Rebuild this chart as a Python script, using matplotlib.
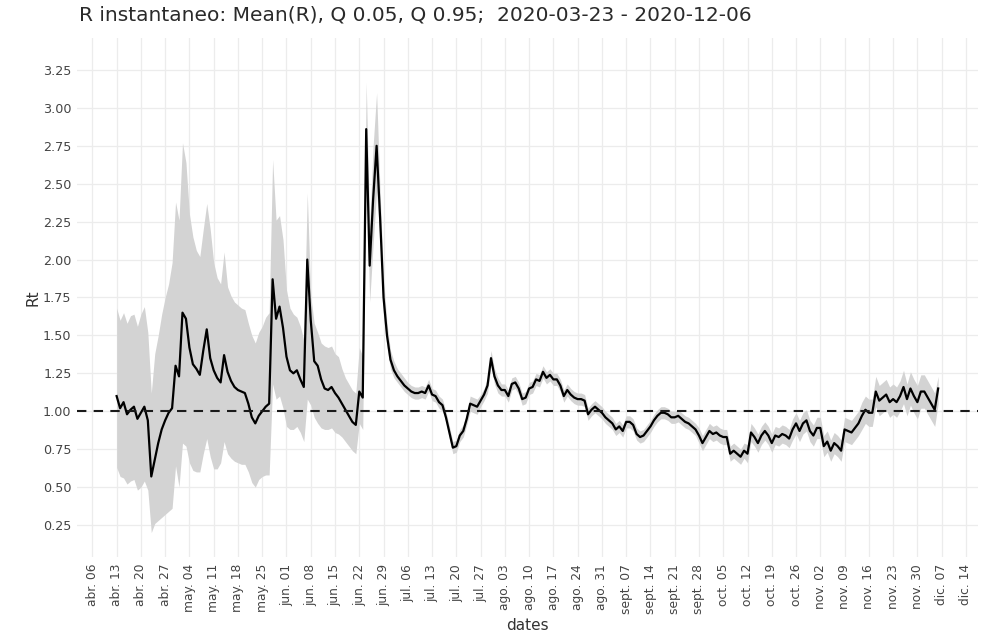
import matplotlib
matplotlib.use("Agg")
import matplotlib.pyplot as plt
import pandas as pd

TITLE = "R instantaneo: Mean(R), Q 0.05, Q 0.95;  2020-03-23 - 2020-12-06"
START = "2020-04-13"

# daily mean of R, from 2020-04-13 to 2020-12-06
mean_r = [
    1.10, 1.02, 1.06, 0.98, 1.01, 1.03, 0.95, 0.99, 1.03, 0.94,
    0.57, 0.68, 0.79, 0.88, 0.94, 0.99, 1.02, 1.30, 1.23, 1.65,
    1.61, 1.42, 1.31, 1.28, 1.24, 1.40, 1.54, 1.35, 1.27, 1.22,
    1.19, 1.37, 1.26, 1.20, 1.16, 1.14, 1.13, 1.12, 1.05, 0.96,
    0.92, 0.97, 1.00, 1.03, 1.05, 1.87, 1.61, 1.69, 1.55, 1.36,
    1.27, 1.25, 1.27, 1.21, 1.16, 2.00, 1.60, 1.33, 1.30, 1.21,
    1.15, 1.14, 1.16, 1.12, 1.09, 1.05, 1.01, 0.97, 0.93, 0.91,
    1.13, 1.09, 2.86, 1.96, 2.40, 2.75, 2.28, 1.75, 1.50, 1.34,
    1.27, 1.23, 1.20, 1.17, 1.15, 1.13, 1.12, 1.12, 1.13, 1.12,
    1.17, 1.11, 1.10, 1.06, 1.04, 0.96, 0.86, 0.76, 0.77, 0.84,
    0.87, 0.95, 1.05, 1.04, 1.03, 1.07, 1.11, 1.17, 1.35, 1.23,
    1.17, 1.14, 1.14, 1.10, 1.18, 1.19, 1.15, 1.08, 1.09, 1.15,
    1.16, 1.21, 1.20, 1.26, 1.22, 1.24, 1.21, 1.21, 1.17, 1.10,
    1.14, 1.11, 1.09, 1.08, 1.08, 1.07, 0.98, 1.01, 1.03, 1.01,
    0.99, 0.96, 0.94, 0.92, 0.88, 0.90, 0.87, 0.93, 0.93, 0.91,
    0.85, 0.83, 0.84, 0.87, 0.90, 0.94, 0.97, 0.99, 0.99, 0.98,
    0.96, 0.96, 0.97, 0.95, 0.93, 0.92, 0.90, 0.88, 0.84, 0.79,
    0.83, 0.87, 0.85, 0.86, 0.84, 0.83, 0.83, 0.72, 0.74, 0.72,
    0.70, 0.74, 0.72, 0.86, 0.83, 0.79, 0.84, 0.87, 0.84, 0.79,
    0.84, 0.83, 0.85, 0.84, 0.82, 0.88, 0.92, 0.87, 0.92, 0.94,
    0.87, 0.84, 0.89, 0.89, 0.77, 0.80, 0.74, 0.79, 0.77, 0.74,
    0.88, 0.87, 0.86, 0.89, 0.92, 0.97, 1.01, 0.99, 0.99, 1.13,
    1.07, 1.09, 1.11, 1.06, 1.08, 1.06, 1.10, 1.16, 1.08, 1.15,
    1.10, 1.06, 1.13, 1.13, 1.09, 1.05, 1.01, 1.15,
]

# quantile 0.05
q05 = [
    0.63, 0.57, 0.56, 0.52, 0.54, 0.55, 0.48, 0.50, 0.54, 0.48,
    0.20, 0.26, 0.28, 0.30, 0.32, 0.34, 0.36, 0.64, 0.50, 0.79,
    0.77, 0.66, 0.61, 0.60, 0.60, 0.72, 0.82, 0.70, 0.62, 0.62,
    0.66, 0.80, 0.72, 0.69, 0.67, 0.66, 0.65, 0.65, 0.60, 0.53,
    0.50, 0.55, 0.57, 0.58, 0.58, 1.18, 1.08, 1.10, 1.02, 0.90,
    0.88, 0.88, 0.90, 0.86, 0.80, 1.08, 1.04, 0.96, 0.92, 0.89,
    0.88, 0.88, 0.89, 0.86, 0.85, 0.83, 0.80, 0.77, 0.74, 0.72,
    0.92, 0.88, 2.58, 1.72, 2.10, 2.45, 2.12, 1.62, 1.42, 1.28,
    1.22, 1.19, 1.16, 1.13, 1.11, 1.09, 1.08, 1.08, 1.09, 1.08,
    1.13, 1.07, 1.06, 1.02, 1.00, 0.93, 0.82, 0.72, 0.73, 0.80,
    0.83, 0.91, 1.00, 0.99, 0.98, 1.03, 1.07, 1.12, 1.30, 1.18,
    1.12, 1.10, 1.10, 1.06, 1.14, 1.15, 1.11, 1.04, 1.05, 1.11,
    1.12, 1.17, 1.16, 1.22, 1.18, 1.20, 1.17, 1.17, 1.13, 1.06,
    1.10, 1.07, 1.05, 1.04, 1.04, 1.03, 0.94, 0.97, 0.99, 0.97,
    0.95, 0.92, 0.90, 0.88, 0.84, 0.86, 0.83, 0.89, 0.89, 0.87,
    0.81, 0.79, 0.80, 0.83, 0.86, 0.90, 0.93, 0.95, 0.95, 0.94,
    0.92, 0.92, 0.93, 0.91, 0.89, 0.88, 0.86, 0.84, 0.79, 0.74,
    0.78, 0.82, 0.80, 0.81, 0.79, 0.78, 0.78, 0.67, 0.69, 0.67,
    0.65, 0.69, 0.66, 0.80, 0.77, 0.73, 0.78, 0.81, 0.78, 0.73,
    0.78, 0.77, 0.79, 0.78, 0.76, 0.81, 0.85, 0.80, 0.85, 0.87,
    0.80, 0.77, 0.82, 0.82, 0.70, 0.73, 0.67, 0.72, 0.70, 0.67,
    0.80, 0.79, 0.78, 0.81, 0.84, 0.88, 0.92, 0.90, 0.90, 1.03,
    0.97, 0.99, 1.01, 0.96, 0.98, 0.96, 1.00, 1.05, 0.97, 1.04,
    0.99, 0.95, 1.02, 1.02, 0.98, 0.94, 0.90, 1.05,
]

# quantile 0.95
q95 = [
    1.68, 1.60, 1.65, 1.58, 1.63, 1.64, 1.56, 1.64, 1.69, 1.52,
    1.12, 1.38, 1.50, 1.64, 1.75, 1.84, 1.98, 2.38, 2.26, 2.77,
    2.64, 2.30, 2.15, 2.06, 2.02, 2.20, 2.37, 2.20, 1.98, 1.88,
    1.84, 2.05, 1.82, 1.76, 1.72, 1.70, 1.68, 1.67, 1.58, 1.50,
    1.45, 1.52, 1.56, 1.62, 1.65, 2.66, 2.26, 2.29, 2.13, 1.80,
    1.68, 1.64, 1.62, 1.56, 1.47, 2.44, 1.76, 1.58, 1.52, 1.45,
    1.43, 1.42, 1.43, 1.38, 1.36, 1.28, 1.22, 1.18, 1.14, 1.12,
    1.42, 1.36, 3.17, 2.22, 2.75, 3.10, 2.45, 1.88, 1.58, 1.40,
    1.33, 1.28, 1.25, 1.22, 1.19, 1.17, 1.16, 1.16, 1.17, 1.16,
    1.21, 1.15, 1.14, 1.10, 1.08, 1.00, 0.90, 0.80, 0.81, 0.88,
    0.91, 0.99, 1.10, 1.09, 1.08, 1.11, 1.15, 1.22, 1.40, 1.28,
    1.22, 1.18, 1.18, 1.14, 1.22, 1.23, 1.19, 1.12, 1.13, 1.19,
    1.20, 1.25, 1.24, 1.30, 1.26, 1.28, 1.25, 1.25, 1.21, 1.14,
    1.18, 1.15, 1.13, 1.12, 1.12, 1.11, 1.02, 1.05, 1.07, 1.05,
    1.03, 1.00, 0.98, 0.96, 0.92, 0.94, 0.91, 0.97, 0.97, 0.95,
    0.89, 0.87, 0.88, 0.91, 0.94, 0.98, 1.01, 1.03, 1.03, 1.02,
    1.00, 1.00, 1.01, 0.99, 0.97, 0.96, 0.94, 0.92, 0.89, 0.84,
    0.88, 0.92, 0.90, 0.91, 0.89, 0.88, 0.88, 0.77, 0.79, 0.77,
    0.75, 0.79, 0.78, 0.92, 0.89, 0.85, 0.90, 0.93, 0.90, 0.85,
    0.90, 0.89, 0.91, 0.90, 0.88, 0.95, 0.99, 0.94, 0.99, 1.01,
    0.94, 0.91, 0.96, 0.96, 0.84, 0.87, 0.81, 0.86, 0.84, 0.81,
    0.96, 0.95, 0.94, 0.97, 1.00, 1.06, 1.10, 1.08, 1.08, 1.23,
    1.17, 1.19, 1.21, 1.16, 1.18, 1.16, 1.20, 1.27, 1.18, 1.26,
    1.21, 1.17, 1.24, 1.24, 1.20, 1.16, 1.12, 1.23,
]

y_ticks = [0.25, 0.50, 0.75, 1.00, 1.25, 1.50, 1.75, 2.00, 2.25, 2.50, 2.75, 3.00, 3.25]
MONTHS_ES = {4: "abr.", 5: "may.", 6: "jun.", 7: "jul.", 8: "ago.",
             9: "sept.", 10: "oct.", 11: "nov.", 12: "dic."}

dates = pd.date_range(START, periods=len(mean_r), freq="D")
tick_dates = pd.date_range("2020-04-06", "2020-12-14", freq="7D")
tick_labels = [f"{MONTHS_ES[d.month]} {d.day:02d}" for d in tick_dates]

fig = plt.figure(figsize=(9.98, 6.36), dpi=100)
ax = fig.add_axes([0.0772, 0.1242, 0.9028, 0.8161])

ax.fill_between(dates, q05, q95, color="#d3d3d3", linewidth=0, zorder=2)
ax.plot(dates, mean_r, color="black", lw=1.6, zorder=3)
ax.axhline(1.0, color="#1a1a1a", lw=1.5, dashes=(4.5, 3.5), zorder=4)

ax.set_xlim(pd.Timestamp("2020-04-01 14:00"), pd.Timestamp("2020-12-17 12:00"))
ax.set_ylim(0.039, 3.461)
ax.set_xticks(tick_dates)
ax.set_xticklabels(tick_labels, rotation=90, fontsize=8.8, color="#444444")
ax.set_yticks(y_ticks)
ax.set_yticklabels([f"{v:.2f}" for v in y_ticks], fontsize=9.2, color="#444444")
ax.tick_params(length=0, pad=4)
ax.tick_params(axis="x", pad=5)
ax.grid(True, color="#ececec", lw=0.9, zorder=0)
ax.set_axisbelow(True)
for s in ax.spines.values():
    s.set_visible(False)

ax.set_xlabel("dates", fontsize=11, color="#333333", labelpad=3)
ax.set_ylabel("Rt", fontsize=11, color="#333333", labelpad=2)
fig.text(0.079, 1 - 15 / 636, TITLE, fontsize=14.5, color="#2a2a2a",
         family="DejaVu Sans", va="center", ha="left")

fig.savefig("out.png", dpi=100, facecolor="white")
